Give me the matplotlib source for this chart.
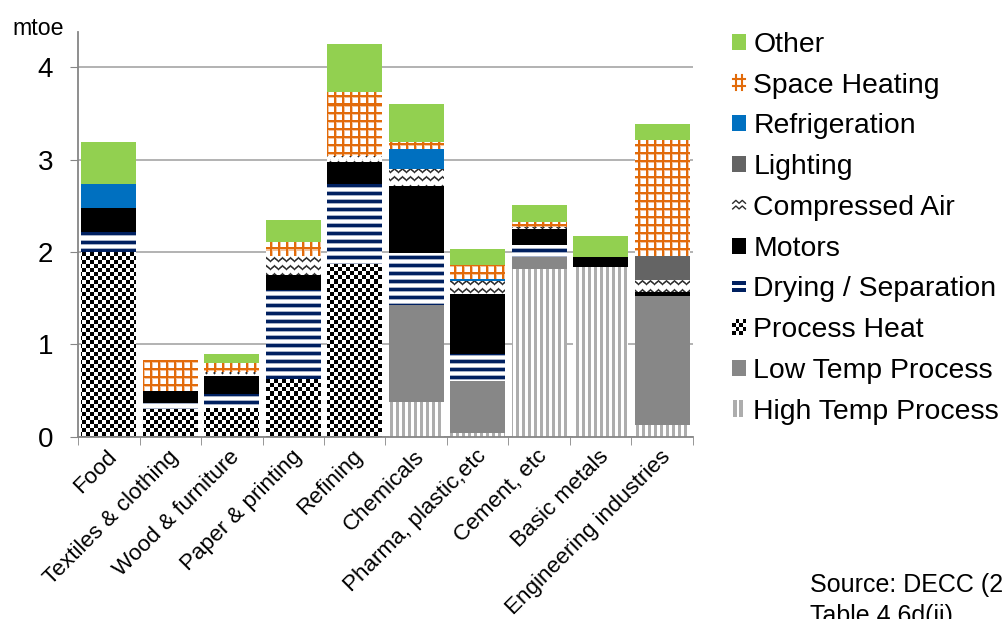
import numpy as np
import matplotlib
matplotlib.use('Agg')
import matplotlib.pyplot as plt
from matplotlib.colors import to_rgb
from matplotlib.patches import Rectangle, Patch
from matplotlib.lines import Line2D
from matplotlib.legend_handler import HandlerBase
from matplotlib.transforms import ScaledTranslation

plt.rcParams['font.family'] = ['Liberation Sans', 'DejaVu Sans']

# energy use by end use and sector (mtoe)
sectors = ['Food', 'Textiles & clothing', 'Wood & furniture', 'Paper & printing',
           'Refining', 'Chemicals', 'Pharma, plastic,etc', 'Cement, etc',
           'Basic metals', 'Engineering industries']

high_temp = [0, 0, 0, 0, 0, 0.38, 0.035, 1.82, 1.835, 0.13]
low_temp = [0, 0, 0, 0, 0, 1.04, 0.565, 0.13, 0, 1.39]
process_heat = [2.0, 0.30, 0.31, 0.62, 1.865, 0, 0, 0, 0, 0]
drying = [0.22, 0.07, 0.15, 0.97, 0.865, 0.57, 0.30, 0.13, 0, 0]
motors = [0.255, 0.13, 0.20, 0.165, 0.24, 0.72, 0.64, 0.165, 0.11, 0.045]
comp_air = [0, 0, 0.045, 0.20, 0.07, 0.19, 0.15, 0.025, 0, 0.135]
lighting = [0, 0, 0, 0, 0, 0, 0, 0, 0, 0.26]
refrigeration = [0.265, 0, 0, 0, 0, 0.21, 0.015, 0, 0, 0]
space_heating = [0, 0.335, 0.095, 0.155, 0.695, 0.08, 0.15, 0.05, 0, 1.25]
other = [0.45, 0, 0.09, 0.24, 0.515, 0.41, 0.175, 0.19, 0.225, 0.17]

# bottom to top: (label, values, fill kind, colour)
series = [
    ('High Temp Process', high_temp, 'vstripe', '#ADADAD'),
    ('Low Temp Process', low_temp, 'solid', '#878787'),
    ('Process Heat', process_heat, 'checker', '#000000'),
    ('Drying / Separation', drying, 'hstripe', '#002060'),
    ('Motors', motors, 'solid', '#000000'),
    ('Compressed Air', comp_air, 'zigzag', '#2A2A2A'),
    ('Lighting', lighting, 'solid', '#646464'),
    ('Refrigeration', refrigeration, 'solid', '#0070C0'),
    ('Space Heating', space_heating, 'grid', '#E26B0A'),
    ('Other', other, 'solid', '#92D050'),
]

YMAX = 4.38


def texture(kind, color, h, w):
    yy, xx = np.mgrid[0:h, 0:w]
    c = np.array(to_rgb(color))
    white = np.ones(3)
    amt = np.zeros((h, w))
    if kind == 'checker':
        amt = (((yy // 4) + (xx // 4)) % 2 == 0).astype(float)
    elif kind == 'vstripe':
        amt = ((xx % 6) < 3).astype(float)
    elif kind == 'hstripe':
        r = yy % 8
        amt = np.where((r >= 1) & (r <= 3), 1.0, 0.0)
        amt = np.where((r == 0) | (r == 4), 0.35, amt)
    elif kind == 'grid':
        rx, ry = xx % 8, yy % 8
        amt = np.where((rx < 2) | (ry < 2), 1.0, 0.0)
        amt = np.maximum(amt, np.where((rx == 2) | (ry == 2), 0.4, 0.0))
    elif kind == 'zigzag':
        tri = np.abs((xx % 8) - 4) * 0.8
        d = (yy - tri) % 8
        amt = np.clip(1.3 - np.abs(d - 1.5) / 1.3, 0, 1)
    return white * (1 - amt[..., None]) + c * amt[..., None]


class SwatchHandler(HandlerBase):
    def __init__(self, kind, color):
        super().__init__()
        self.kind = kind
        self.color = color

    def create_artists(self, legend, orig_handle, xdescent, ydescent,
                       width, height, fontsize, trans):
        x0, y0 = -xdescent, -ydescent
        w, h = width, height
        arts = []
        if self.kind == 'solid':
            arts.append(Rectangle((x0, y0), w, h, facecolor=self.color, edgecolor='none'))
        elif self.kind == 'grid':
            for f in (0.3, 0.72):
                arts.append(Line2D([x0 + f * w] * 2, [y0 + 0.05 * h, y0 + 0.95 * h],
                                   color=self.color, lw=1.5))
                arts.append(Line2D([x0 + 0.05 * w, x0 + 0.95 * w], [y0 + f * h] * 2,
                                   color=self.color, lw=1.5))
        elif self.kind == 'hstripe':
            for f in (0.15, 0.58):
                arts.append(Rectangle((x0, y0 + f * h), w, 0.24 * h,
                                      facecolor=self.color, edgecolor='none'))
        elif self.kind == 'vstripe':
            for f in (0.1, 0.5):
                arts.append(Rectangle((x0 + f * w, y0), 0.25 * w, h,
                                      facecolor=self.color, edgecolor='none'))
        elif self.kind == 'checker':
            n = 4
            for i in range(n):
                for j in range(n):
                    if (i + j) % 2 == 0:
                        arts.append(Rectangle((x0 + i * w / n, y0 + j * h / n), w / n, h / n,
                                              facecolor='black', edgecolor='none'))
        elif self.kind == 'zigzag':
            xs = x0 + np.linspace(0.05, 0.95, 5) * w
            for base in (0.25, 0.6):
                ys = y0 + (base + np.array([0, 1, 0, 1, 0]) * 0.18) * h
                arts.append(Line2D(xs, ys, color=self.color, lw=1.0))
        for a in arts:
            a.set_transform(trans)
        return arts


fig = plt.figure(figsize=(10.03, 6.19), dpi=100)
ax = fig.add_axes([78 / 1003, 1 - 436.7 / 619, 615 / 1003, (436.7 - 32) / 619])

bb = ax.get_window_extent()
H, W = int(round(bb.height)), int(round(bb.width))

x = np.arange(len(sectors))
width = 0.89
bottom = np.zeros(len(sectors))
handles = []
hmap = {}
for label, vals, kind, color in series:
    vals = np.array(vals, dtype=float)
    if kind == 'solid':
        ax.bar(x, vals, width, bottom=bottom, color=color, linewidth=0, zorder=2)
    else:
        bars = ax.bar(x, vals, width, bottom=bottom, color='white', linewidth=0, zorder=2)
        tex = texture(kind, color, H, W)
        for b in bars:
            if b.get_height() > 0:
                im = ax.imshow(tex, extent=(-0.5, len(sectors) - 0.5, 0, YMAX),
                               aspect='auto', interpolation='nearest', zorder=2.1)
                im.set_clip_path(b)
    bottom += vals
    proxy = Patch(label=label)
    handles.append(proxy)
    hmap[proxy] = SwatchHandler(kind, color)

ax.set_xlim(-0.5, len(sectors) - 0.5)
ax.set_ylim(0, YMAX)

ax.set_yticks([0, 1, 2, 3, 4])
ax.yaxis.grid(True, color='#A6A6A6', linewidth=1.2, zorder=0)
ax.set_axisbelow(True)
ax.tick_params(axis='y', labelsize=20, length=6, color='#868686', pad=12)

ax.set_xticks(x)
ax.set_xticklabels(sectors, rotation=45, ha='right', va='center',
                   rotation_mode='anchor', fontsize=16.2)
ax.tick_params(axis='x', which='major', length=0, pad=12)
ax.set_xticks(np.arange(len(sectors) + 1) - 0.5, minor=True)
ax.tick_params(axis='x', which='minor', length=6, color='#868686')
shift = ScaledTranslation(5 / 100, 0, fig.dpi_scale_trans)
for lab in ax.get_xticklabels():
    lab.set_transform(lab.get_transform() + shift)

for s in ['top', 'right']:
    ax.spines[s].set_visible(False)
for s in ['left', 'bottom']:
    ax.spines[s].set_color('#868686')
    ax.spines[s].set_linewidth(1.3)

fig.text(12 / 1003, 1 - 35 / 619, 'mtoe', fontsize=16.7, va='baseline')

leg = fig.legend(handles[::-1], [h.get_label() for h in handles[::-1]],
                 handler_map=hmap, loc='upper left',
                 bbox_to_anchor=(732 / 1003, 1 - 32 / 619),
                 frameon=False, fontsize=20.4, handlelength=0.5, handleheight=0.5,
                 handletextpad=0.25, labelspacing=0.52, borderpad=0, borderaxespad=0)

fig.text(810 / 1003, 1 - 592 / 619, 'Source: DECC (2013)', fontsize=18, va='baseline')
fig.text(810 / 1003, 1 - 623 / 619, 'Table 4.6d(ii)', fontsize=18, va='baseline')

fig.savefig('out.png', dpi=100)
